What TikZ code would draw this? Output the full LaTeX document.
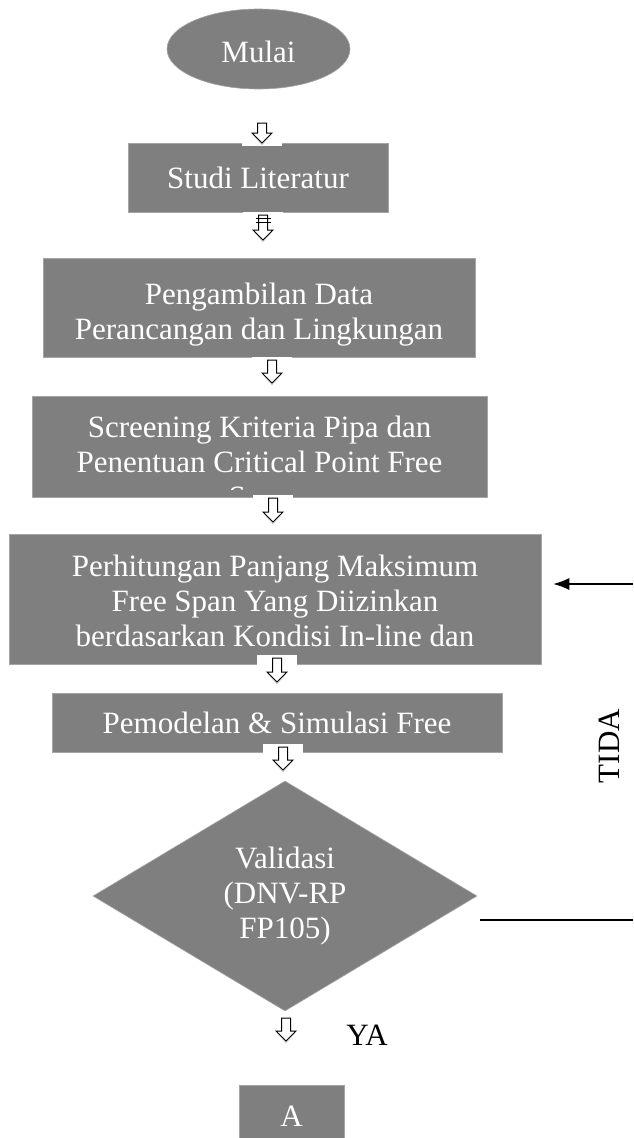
\documentclass[tikz,border=0pt]{standalone}
\usepackage{fontspec}
\setmainfont{Liberation Serif}
\usetikzlibrary{shapes.geometric,arrows.meta,calc}
\definecolor{boxgray}{RGB}{127,127,127}
\definecolor{edgegray}{RGB}{165,165,165}
\tikzset{
  base/.style={fill=boxgray, draw=edgegray, line width=0.6pt, text=white,
    font=\fontsize{31}{35}\selectfont, align=center, inner sep=0pt},
  procbox/.style={base, rectangle},
  startshape/.style={base, ellipse},
  decshape/.style={base, diamond, shape aspect=1.67},
  txt/.style={text=white, font=\fontsize{31}{35}\selectfont, align=center, inner sep=0pt},
  lbl/.style={text=black, font=\fontsize{31}{35}\selectfont, inner sep=0pt},
  harrow/.style={draw=black, fill=white, line width=1pt, line join=miter},
  flowline/.style={draw=black, line width=1.2pt},
}
\newcommand{\hollowarrow}[2]{%
  \fill[white] ($(#1)+(-20,-3)$) rectangle ($(#2)+(20,3)$);
  \fill[black, opacity=0.18] ($(#2)+(-9,-8)$) -- ($(#2)+(0,2.5)$) -- ($(#2)+(9,-8)$) -- cycle;
  \draw[harrow] ($(#1)+(-4.5,0)$) -- ($(#2)+(-4.5,-10)$) -- ($(#2)+(-10,-10)$) -- (#2)
    -- ($(#2)+(10,-10)$) -- ($(#2)+(4.5,-10)$) -- ($(#1)+(4.5,0)$) -- cycle;}
\begin{document}
\begin{tikzpicture}[x=1pt,y=-1pt]
\useasboundingbox (0,0) rectangle (633,1138);

% shapes
\node[startshape, minimum width=183, minimum height=80] (mulai) at (258.5,49) {\raisebox{0pt}[27pt][0pt]{Mulai}};
\node[procbox, minimum width=260, minimum height=69] (studi) at (258,177.5) {Studi Literatur};
\node[procbox, minimum width=432, minimum height=99] (ambil) at (259,307.5) {};
\node[txt] (ambiltxt) at (259,315) {Pengambilan Data\\Perancangan dan Lingkungan};
\node[procbox, minimum width=455, minimum height=101] (scr) at (259.5,446.5) {};
\begin{scope}
  \clip (scr.north west) rectangle ($(scr.south east)+(0,-8)$);
  \node[txt] (scrtxt) at (259.5,465) {Screening Kriteria Pipa dan\\Penentuan Critical Point Free\\Span};
\end{scope}
\node[procbox, minimum width=532, minimum height=130] (hitung) at (275,599) {};
\node[txt] (hitungtxt) at (275,601) {Perhitungan Panjang Maksimum\\Free Span Yang Diizinkan\\berdasarkan Kondisi In-line dan};
\node[procbox, minimum width=450, minimum height=59] (model) at (277,722.5) {Pemodelan \& Simulasi Free};
\node[decshape, minimum width=384, minimum height=230] (valid) at (285,896) {Validasi\\(DNV-RP\\FP105)};
\node[procbox, minimum width=105, minimum height=62] (akhir) at (291.5,1116) {A};

% labels
\node[lbl] (ya) at (367,1035) {YA};
\node[lbl, rotate=90] (tida) at (609,746) {TIDA};

% block arrows
\coordinate (a1t) at (262,123);  \coordinate (a1b) at (262,143);
\coordinate (a2t) at (263,215);  \coordinate (a2b) at (263,240);
\coordinate (a3t) at (272,360);  \coordinate (a3b) at (272,383);
\coordinate (a4t) at (273,498);  \coordinate (a4b) at (273,522);
\coordinate (a5t) at (277,658);  \coordinate (a5b) at (277,682);
\coordinate (a6t) at (283,747);  \coordinate (a6b) at (283,770);
\coordinate (a7t) at (286,1018); \coordinate (a7b) at (286,1041);
\hollowarrow{a1t}{a1b}
\hollowarrow{a2t}{a2b}
\draw[line width=1pt] ($(a2t)+(-7.5,3.5)$) -- ($(a2t)+(7.5,3.5)$);
\draw[line width=1pt] ($(a2t)+(-7.5,7)$) -- ($(a2t)+(7.5,7)$);
\hollowarrow{a3t}{a3b}
\hollowarrow{a4t}{a4b}
\hollowarrow{a5t}{a5b}
\hollowarrow{a6t}{a6b}
\hollowarrow{a7t}{a7b}

% return lines
\coordinate (ret) at (633,584);
\draw[flowline, -{Latex[length=16pt,width=12pt]}] (ret) -- ([xshift=12pt]hitung.east |- ret);
\coordinate (noend) at (633,920);
\draw[flowline] ($(valid.east)+(3,24)$) -- (noend);
\end{tikzpicture}
\end{document}
